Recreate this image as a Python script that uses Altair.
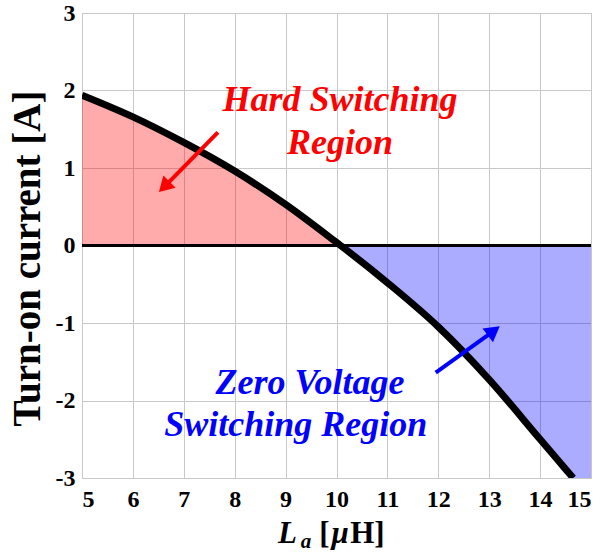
import altair as alt
import pandas as pd

# ---- data ----
la_uH = [5, 6, 7, 8, 9, 10, 10.08, 11, 12, 13, 14, 14.65]
i_on = [1.94, 1.66, 1.33, 0.96, 0.53, 0.04, 0.0, -0.48, -1.05, -1.73, -2.50, -3.0]
x_ticks = [5, 6, 7, 8, 9, 10, 11, 12, 13, 14, 15]
y_ticks = [-3, -2, -1, 0, 1, 2, 3]

hard_lines = ["Hard Switching", "Region"]
hard_x = [10.07, 10.07]
hard_y = [1.88, 1.32]
zvs_lines = ["Zero Voltage", "Switching Region"]
zvs_x = [9.48, 9.20]
zvs_y = [-1.78, -2.32]

red_arrow = dict(x=7.67, y=1.46, x2=6.65, y2=0.78, angle=225)
blue_arrow = dict(x=11.95, y=-1.64, x2=13.05, y2=-1.12, angle=53)

xlab_parts = ["L", "a", "[", "μ", "H]"]
xlab_x = [8.85, 9.30, 9.66, 9.90, 10.27]
xlab_y = [-3.72, -3.83, -3.72, -3.72, -3.72]
xlab_size = [31, 21, 31, 31, 31]
xlab_style = ["italic", "italic", "normal", "italic", "normal"]

FONT = "Liberation Serif"

curve = pd.DataFrame({"x": la_uH, "y": i_on})
red_df = curve[curve["x"] <= 10.08]
blue_df = pd.concat([curve[curve["x"] >= 10.08], pd.DataFrame({"x": [15], "y": [-3.0]})])

LABEL_EXPR = "datum.value < 0 ? '-' + abs(datum.value) : '' + datum.value"

xscale = alt.Scale(domain=[5, 15], nice=False)
yscale = alt.Scale(domain=[-3, 3], nice=False)
xaxis = alt.Axis(values=x_ticks, title=None, grid=True, domain=False, ticks=False,
                 labelFont=FONT, labelFontWeight="bold", labelFontSize=24,
                 labelColor="black", labelPadding=9, gridColor="#c8c8c8",
                 labelExpr=LABEL_EXPR)
yaxis = alt.Axis(values=y_ticks, title="Turn-on current [A]", grid=True, domain=False,
                 ticks=False, labelFont=FONT, labelFontWeight="bold", labelFontSize=24,
                 labelColor="black", labelPadding=7, gridColor="#c8c8c8",
                 labelExpr=LABEL_EXPR,
                 titleFont=FONT, titleFontWeight="bold", titleFontSize=39,
                 titleColor="black", titlePadding=8, titleY=245)


def X(field="x"):
    return alt.X(f"{field}:Q", scale=xscale, axis=xaxis)


def Y(field="y"):
    return alt.Y(f"{field}:Q", scale=yscale, axis=yaxis)


red_area = alt.Chart(red_df).mark_area(color="#ff0000", opacity=0.33, interpolate="monotone").encode(
    x=X(), y=Y(), y2=alt.datum(0))
blue_area = alt.Chart(blue_df).mark_area(color="#0000ff", opacity=0.33, interpolate="monotone").encode(
    x=X(), y=Y(), y2=alt.datum(0))
zero = alt.Chart(pd.DataFrame({"y": [0]})).mark_rule(color="black", strokeWidth=3).encode(
    y=Y())
line = alt.Chart(curve).mark_line(color="black", strokeWidth=7, interpolate="monotone", clip=True).encode(
    x=X(), y=Y())


def arrow(a, color):
    d = pd.DataFrame([a])
    shaft = alt.Chart(d).mark_rule(color=color, strokeWidth=4).encode(
        x=X("x"), y=Y("y"), x2="x2:Q", y2="y2:Q")
    head = alt.Chart(d).mark_point(shape="triangle", filled=True, color=color, opacity=1,
                                   size=300, angle=a["angle"]).encode(x=X("x2"), y=Y("y2"))
    return shaft + head


hard_df = pd.DataFrame({"t": hard_lines, "x": hard_x, "y": hard_y})
zvs_df = pd.DataFrame({"t": zvs_lines, "x": zvs_x, "y": zvs_y})
hard_txt = alt.Chart(hard_df).mark_text(font=FONT, fontSize=36, fontWeight="bold", fontStyle="italic",
                                        color="#ff0000", baseline="middle").encode(
    x=X(), y=Y(), text="t:N")
zvs_txt = alt.Chart(zvs_df).mark_text(font=FONT, fontSize=36, fontWeight="bold", fontStyle="italic",
                                      color="#0000ff", baseline="middle").encode(
    x=X(), y=Y(), text="t:N")

xlab_layers = []
for t, xx, yy, s, st in zip(xlab_parts, xlab_x, xlab_y, xlab_size, xlab_style):
    d = pd.DataFrame({"t": [t], "x": [xx], "y": [yy]})
    xlab_layers.append(alt.Chart(d).mark_text(font=FONT, fontSize=s, fontWeight="bold", fontStyle=st,
                                              color="black", align="left", baseline="middle").encode(
        x=X(), y=Y(), text="t:N"))

chart = alt.layer(red_area, blue_area, zero, line, arrow(red_arrow, "#ff0000"),
                  arrow(blue_arrow, "#0000ff"), hard_txt, zvs_txt, *xlab_layers).properties(
    width=509, height=465, autosize=alt.AutoSizeParams(type="none"),
    padding={"left": 82, "top": 13, "right": 14, "bottom": 77}
).configure_view(stroke="black", strokeWidth=1.5).configure(background="white")

chart.save("out.html", embed_options={"renderer": "svg", "actions": False})
